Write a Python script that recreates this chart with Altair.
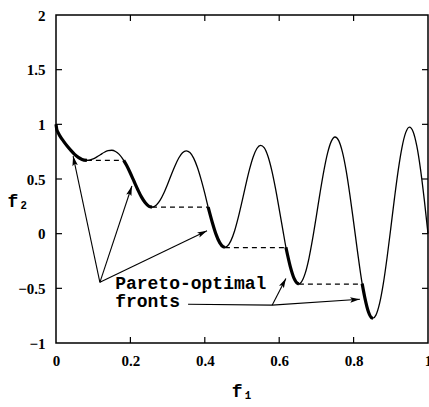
import math
import altair as alt
import pandas as pd

# ZDT3-style objective curve, f2 against f1
f1 = [0.0, 0.002, 0.005, 0.01, 0.02, 0.03, 0.04, 0.05, 0.06, 0.07, 0.083,
      0.09, 0.10, 0.11, 0.12, 0.13, 0.14, 0.15, 0.16, 0.17, 0.182, 0.19,
      0.20, 0.21, 0.22, 0.23, 0.24, 0.25, 0.258, 0.27, 0.28, 0.29, 0.30,
      0.31, 0.32, 0.33, 0.34, 0.35, 0.36, 0.37, 0.38, 0.39, 0.40, 0.409,
      0.42, 0.43, 0.44, 0.45, 0.454, 0.46, 0.47, 0.48, 0.49, 0.50, 0.51,
      0.52, 0.53, 0.54, 0.55, 0.56, 0.57, 0.58, 0.59, 0.60, 0.61, 0.618,
      0.63, 0.64, 0.65, 0.653, 0.66, 0.67, 0.68, 0.69, 0.70, 0.71, 0.72,
      0.73, 0.74, 0.75, 0.76, 0.77, 0.78, 0.79, 0.80, 0.81, 0.823, 0.83,
      0.84, 0.85, 0.852, 0.86, 0.87, 0.88, 0.89, 0.90, 0.91, 0.92, 0.93,
      0.94, 0.95, 0.96, 0.97, 0.98, 0.99, 1.0]
f2 = [1.0, 0.955, 0.928, 0.897, 0.847, 0.802, 0.762, 0.726, 0.698, 0.679, 0.670,
      0.672, 0.684, 0.702, 0.724, 0.745, 0.759, 0.763, 0.752, 0.725, 0.670, 0.623,
      0.553, 0.477, 0.402, 0.334, 0.282, 0.250, 0.243, 0.262, 0.306, 0.372, 0.452,
      0.539, 0.622, 0.692, 0.740, 0.758, 0.742, 0.691, 0.607, 0.496, 0.368, 0.243,
      0.105, -0.004, -0.082, -0.121, -0.124, -0.116, -0.066, 0.025, 0.149, 0.293, 0.444,
      0.585, 0.701, 0.779, 0.808, 0.785, 0.706, 0.579, 0.414, 0.225, 0.031, -0.124,
      -0.303, -0.409, -0.456, -0.458, -0.440, -0.361, -0.225, -0.044, 0.163, 0.377, 0.574,
      0.736, 0.844, 0.884, 0.851, 0.745, 0.576, 0.355, 0.106, -0.150, -0.457, -0.582,
      -0.716, -0.772, -0.773, -0.745, -0.636, -0.455, -0.218, 0.051, 0.327, 0.582, 0.788,
      0.924, 0.975, 0.933, 0.800, 0.586, 0.311, 0.0]

# disconnected Pareto-optimal fronts (f1 ranges)
front_lo = [0.0, 0.182, 0.409, 0.618, 0.823]
front_hi = [0.083, 0.258, 0.454, 0.653, 0.852]

# dashed links between fronts
gap_x1 = [0.083, 0.258, 0.454, 0.653]
gap_x2 = [0.182, 0.409, 0.618, 0.823]
gap_y = [0.670, 0.243, -0.128, -0.462]

# annotation arrows: tail (x0, y0) -> head (x1, y1)
arr_x0 = [0.118, 0.118, 0.118, 0.581, 0.581]
arr_y0 = [-0.445, -0.445, -0.445, -0.654, -0.654]
arr_x1 = [0.046, 0.204, 0.406, 0.618, 0.817]
arr_y1 = [0.71, 0.436, 0.027, -0.409, -0.60]

# leader line under "fronts"
lead_x = [0.355, 0.581]
lead_y = [-0.645, -0.654]

label_x = [0.159, 0.159]
label_y = [-0.505, -0.675]
label_text = ["Pareto-optimal", "fronts"]

x_ticks = [0, 0.2, 0.4, 0.6, 0.8, 1]
y_ticks = [-1, -0.5, 0, 0.5, 1, 1.5, 2]
x_inner = [0.2, 0.4, 0.6, 0.8]
y_inner = [-0.5, 0, 0.5, 1, 1.5]

W, H = 372, 328

def front_of(x):
    for i, (lo, hi) in enumerate(zip(front_lo, front_hi)):
        if lo - 1e-9 <= x <= hi + 1e-9:
            return i
    return -1

curve = pd.DataFrame({"f1": f1, "f2": f2})
curve["front"] = [front_of(v) for v in f1]
fronts = curve[curve["front"] >= 0]

gaps = pd.DataFrame({"x1": gap_x1, "x2": gap_x2, "y": gap_y})
arrows = pd.DataFrame({"x0": arr_x0, "y0": arr_y0, "x1": arr_x1, "y1": arr_y1})
arrows["angle"] = [
    math.degrees(math.atan2((b - a) * W, (d - c) * H / 3)) % 360
    for a, b, c, d in zip(arr_x0, arr_x1, arr_y0, arr_y1)
]
lead = pd.DataFrame({"x": lead_x, "y": lead_y})
labels = pd.DataFrame({"x": label_x, "y": label_y, "t": label_text})

xs = alt.Scale(domain=[0, 1], nice=False, zero=False)
ys = alt.Scale(domain=[-1, 2], nice=False, zero=False)

serif = "'Liberation Serif', 'Times New Roman', 'DejaVu Serif', serif"
mono = "'Liberation Mono', 'Courier New', 'DejaVu Sans Mono', monospace"

x_axis = alt.Axis(values=x_ticks, labelExpr="format(datum.value, '~g')",
                  ticks=False, tickSize=0, domain=False, grid=False,
                  labelFont=serif, labelFontSize=15, labelFontWeight="bold",
                  labelColor="black", labelPadding=10, labelFlush=False,
                  title="f₁", titleFont=mono, titleFontSize=18,
                  titleFontWeight="bold", titleColor="black", titlePadding=14)
y_axis = alt.Axis(values=y_ticks, labelExpr="format(datum.value, '~g')",
                  ticks=False, tickSize=0, domain=False, grid=False,
                  labelFont=serif, labelFontSize=15, labelFontWeight="bold",
                  labelColor="black", labelPadding=11, labelFlush=False,
                  title="f₂", titleFont=mono, titleFontSize=18,
                  titleFontWeight="bold", titleColor="black", titleAngle=0,
                  titleX=-49, titleY=195, titleAlign="left")

thin = alt.Chart(curve).mark_line(color="black", strokeWidth=1.3,
                                  interpolate="monotone").encode(
    x=alt.X("f1:Q", scale=xs, axis=x_axis),
    y=alt.Y("f2:Q", scale=ys, axis=y_axis),
    order="f1:Q",
)

thick = alt.Chart(fronts).mark_line(color="black", strokeWidth=3.2,
                                    interpolate="monotone").encode(
    x=alt.X("f1:Q", scale=xs),
    y=alt.Y("f2:Q", scale=ys),
    detail="front:N",
    order="f1:Q",
)

dashes = alt.Chart(gaps).mark_rule(color="black", strokeWidth=1.2,
                                   strokeDash=[5, 4]).encode(
    x=alt.X("x1:Q", scale=xs), x2="x2:Q", y=alt.Y("y:Q", scale=ys))

shafts = alt.Chart(arrows).mark_rule(color="black", strokeWidth=1.1).encode(
    x=alt.X("x0:Q", scale=xs), x2="x1:Q",
    y=alt.Y("y0:Q", scale=ys), y2="y1:Q")

heads = alt.Chart(arrows).mark_point(
    shape="M0,0 L-0.28,1 L0,0.8 L0.28,1 Z", size=380, filled=True,
    color="black", opacity=1).encode(
    x=alt.X("x1:Q", scale=xs), y=alt.Y("y1:Q", scale=ys),
    angle=alt.Angle("angle:Q", scale=None))

leader = alt.Chart(lead).mark_line(color="black", strokeWidth=1.1).encode(
    x=alt.X("x:Q", scale=xs), y=alt.Y("y:Q", scale=ys))

texts = alt.Chart(labels).mark_text(font=mono, fontSize=18, align="left",
                                    baseline="alphabetic", color="black",
                                    fontWeight="bold").encode(
    x=alt.X("x:Q", scale=xs), y=alt.Y("y:Q", scale=ys), text="t:N")

xt = pd.DataFrame({"t": x_inner})
yt = pd.DataFrame({"t": y_inner})
tick_bottom = alt.Chart(xt).mark_rule(color="black", strokeWidth=1.2).encode(
    x=alt.X("t:Q", scale=xs), y=alt.value(H), y2=alt.value(H - 6))
tick_top = alt.Chart(xt).mark_rule(color="black", strokeWidth=1.2).encode(
    x=alt.X("t:Q", scale=xs), y=alt.value(0), y2=alt.value(6))
tick_left = alt.Chart(yt).mark_rule(color="black", strokeWidth=1.2).encode(
    y=alt.Y("t:Q", scale=ys), x=alt.value(0), x2=alt.value(6))
tick_right = alt.Chart(yt).mark_rule(color="black", strokeWidth=1.2).encode(
    y=alt.Y("t:Q", scale=ys), x=alt.value(W), x2=alt.value(W - 6))

chart = alt.layer(
    thin, thick, dashes, shafts, heads, leader, texts,
    tick_bottom, tick_top, tick_left, tick_right,
).properties(
    width=W, height=H,
    autosize=alt.AutoSizeParams(type="none"),
    padding={"left": 56, "top": 15, "right": 1, "bottom": 64},
    background="white",
).configure_view(
    stroke="black", strokeWidth=1.5,
)

chart.save("out.html", embed_options={"renderer": "svg", "actions": False})
